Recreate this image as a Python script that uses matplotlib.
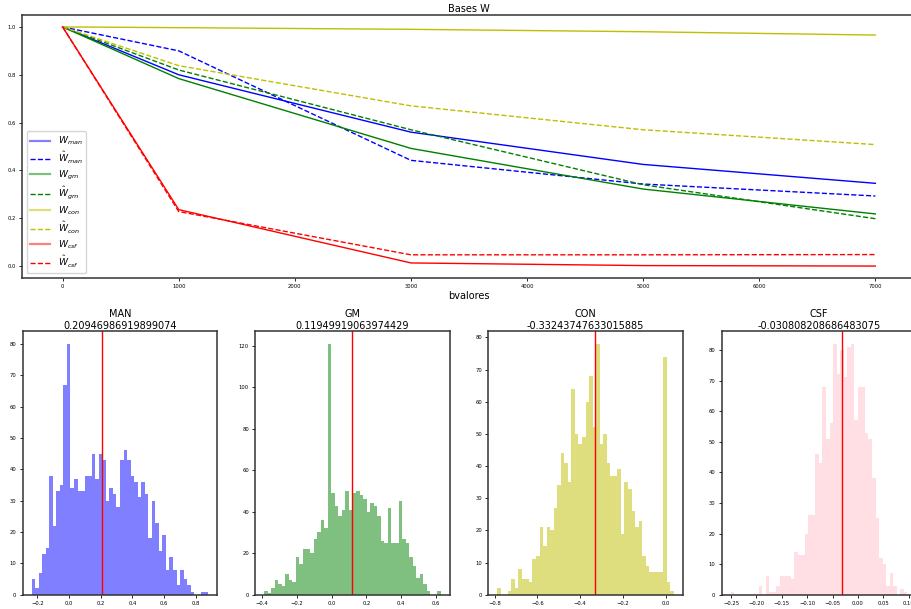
import numpy as np
import matplotlib
matplotlib.use('Agg')
from matplotlib import pyplot as plt
from matplotlib.ticker import MultipleLocator

# top panel: mean basis weights vs b-value
bvals = [0, 1000, 3000, 5000, 7000]
w_man = [1.0, 0.800, 0.560, 0.425, 0.346]
w_man_hat = [1.0, 0.900, 0.442, 0.343, 0.293]
w_gm = [1.0, 0.784, 0.492, 0.322, 0.218]
w_gm_hat = [1.0, 0.820, 0.570, 0.340, 0.198]
w_con = [1.0, 0.997, 0.990, 0.980, 0.966]
w_con_hat = [1.0, 0.838, 0.670, 0.570, 0.508]
w_csf = [1.0, 0.236, 0.013, 0.002, 0.000]
w_csf_hat = [1.0, 0.228, 0.047, 0.047, 0.048]

# histograms (50 bins each): first edge, bin width, counts, mean
man_lo, man_bw = -0.2365, 0.02232
man_counts = [5, 2, 7, 13, 15, 38, 22, 33, 35, 67, 80, 34, 37, 33, 33, 38, 38, 45, 37, 45,
              43, 30, 34, 32, 28, 43, 46, 43, 38, 36, 31, 36, 32, 18, 30, 23, 14, 19, 8, 12,
              8, 3, 8, 5, 3, 1, 0, 0, 1, 1]
man_mean = 0.20946986919899074

gm_lo, gm_bw = -0.388, 0.02032
gm_counts = [2, 1, 3, 7, 5, 4, 10, 7, 6, 18, 15, 22, 22, 20, 27, 30, 36, 32, 121, 49,
             43, 38, 41, 50, 41, 49, 50, 48, 46, 40, 44, 43, 38, 26, 25, 42, 25, 25, 45, 27,
             25, 18, 14, 8, 10, 5, 2, 0, 0, 2]
gm_mean = 0.11949919063974429

con_lo, con_bw = -0.789, 0.01656
con_counts = [2, 0, 0, 1, 5, 2, 8, 5, 5, 4, 11, 12, 21, 15, 21, 20, 27, 34, 44, 41,
              35, 64, 50, 47, 49, 60, 68, 52, 78, 47, 50, 41, 37, 37, 39, 19, 35, 33, 26, 21,
              23, 12, 9, 7, 7, 7, 7, 74, 4, 1]
con_mean = -0.33243747633015885

csf_lo, csf_bw = -0.251, 0.00697
csf_counts = [1, 0, 0, 0, 0, 0, 0, 0, 3, 0, 6, 1, 1, 3, 6, 6, 6, 5, 14, 13,
              13, 20, 26, 26, 46, 43, 68, 51, 56, 82, 72, 80, 71, 81, 82, 57, 68, 68, 53, 51,
              38, 25, 12, 10, 3, 7, 3, 0, 2, 1]
csf_mean = -0.030808208686483075

fig = plt.figure(figsize=(9.12, 6.09), dpi=100)

ax = fig.add_axes([0.0241, 0.5435, 0.9803, 0.4319])
ax.plot(bvals, w_man, '-', color='b', lw=1.0, label=r'$W_{man}$')
ax.plot(bvals, w_man_hat, '--', color='b', lw=1.0, label=r'$\hat{W}_{man}$')
ax.plot(bvals, w_gm, '-', color='g', lw=1.0, label=r'$W_{gm}$')
ax.plot(bvals, w_gm_hat, '--', color='g', lw=1.0, label=r'$\hat{W}_{gm}$')
ax.plot(bvals, w_con, '-', color='y', lw=1.0, label=r'$W_{con}$')
ax.plot(bvals, w_con_hat, '--', color='y', lw=1.0, label=r'$\hat{W}_{con}$')
ax.plot(bvals, w_csf, '-', color='r', lw=1.0, label=r'$W_{csf}$')
ax.plot(bvals, w_csf_hat, '--', color='r', lw=1.0, label=r'$\hat{W}_{csf}$')
ax.set_title('Bases W', fontsize=7, pad=2.5)
ax.set_xlabel('bvalores', fontsize=7, labelpad=1.5)
ax.tick_params(labelsize=3.8, length=2.5, width=0.6, pad=2)
for s in ax.spines.values():
    s.set_linewidth(1.1)
    s.set_color('#333333')
leg = ax.legend(loc='lower left', fontsize=6.6, labelspacing=0.3, handlelength=2.2,
                borderpad=0.4)
for i, h in enumerate(leg.legend_handles):
    if i % 2 == 0:
        h.set_alpha(0.5)
        h.set_linewidth(1.6)

hists = [('MAN', man_lo, man_bw, man_counts, man_mean, 'b', 0.2),
         ('GM', gm_lo, gm_bw, gm_counts, gm_mean, 'g', 0.2),
         ('CON', con_lo, con_bw, con_counts, con_mean, 'y', 0.2),
         ('CSF', csf_lo, csf_bw, csf_counts, csf_mean, 'pink', 0.05)]
lefts = [0.0249, 0.2799, 0.5354, 0.7913]

for (name, lo, bw, counts, mean, col, step), left in zip(hists, lefts):
    hx = fig.add_axes([left, 0.0235, 0.2133, 0.4325])
    edges = lo + bw * np.arange(len(counts))
    hx.bar(edges, counts, width=bw, align='edge', color=col, alpha=0.5, linewidth=0)
    hx.axvline(mean, color='r', lw=1.0)
    hx.set_title(name + '\n' + str(mean), fontsize=7, pad=2)
    hx.xaxis.set_major_locator(MultipleLocator(step))
    hx.tick_params(labelsize=3.8, length=2.5, width=0.6, pad=2)
    for s in hx.spines.values():
        s.set_linewidth(1.1)
        s.set_color('#333333')

fig.savefig('out.png', dpi=100)
